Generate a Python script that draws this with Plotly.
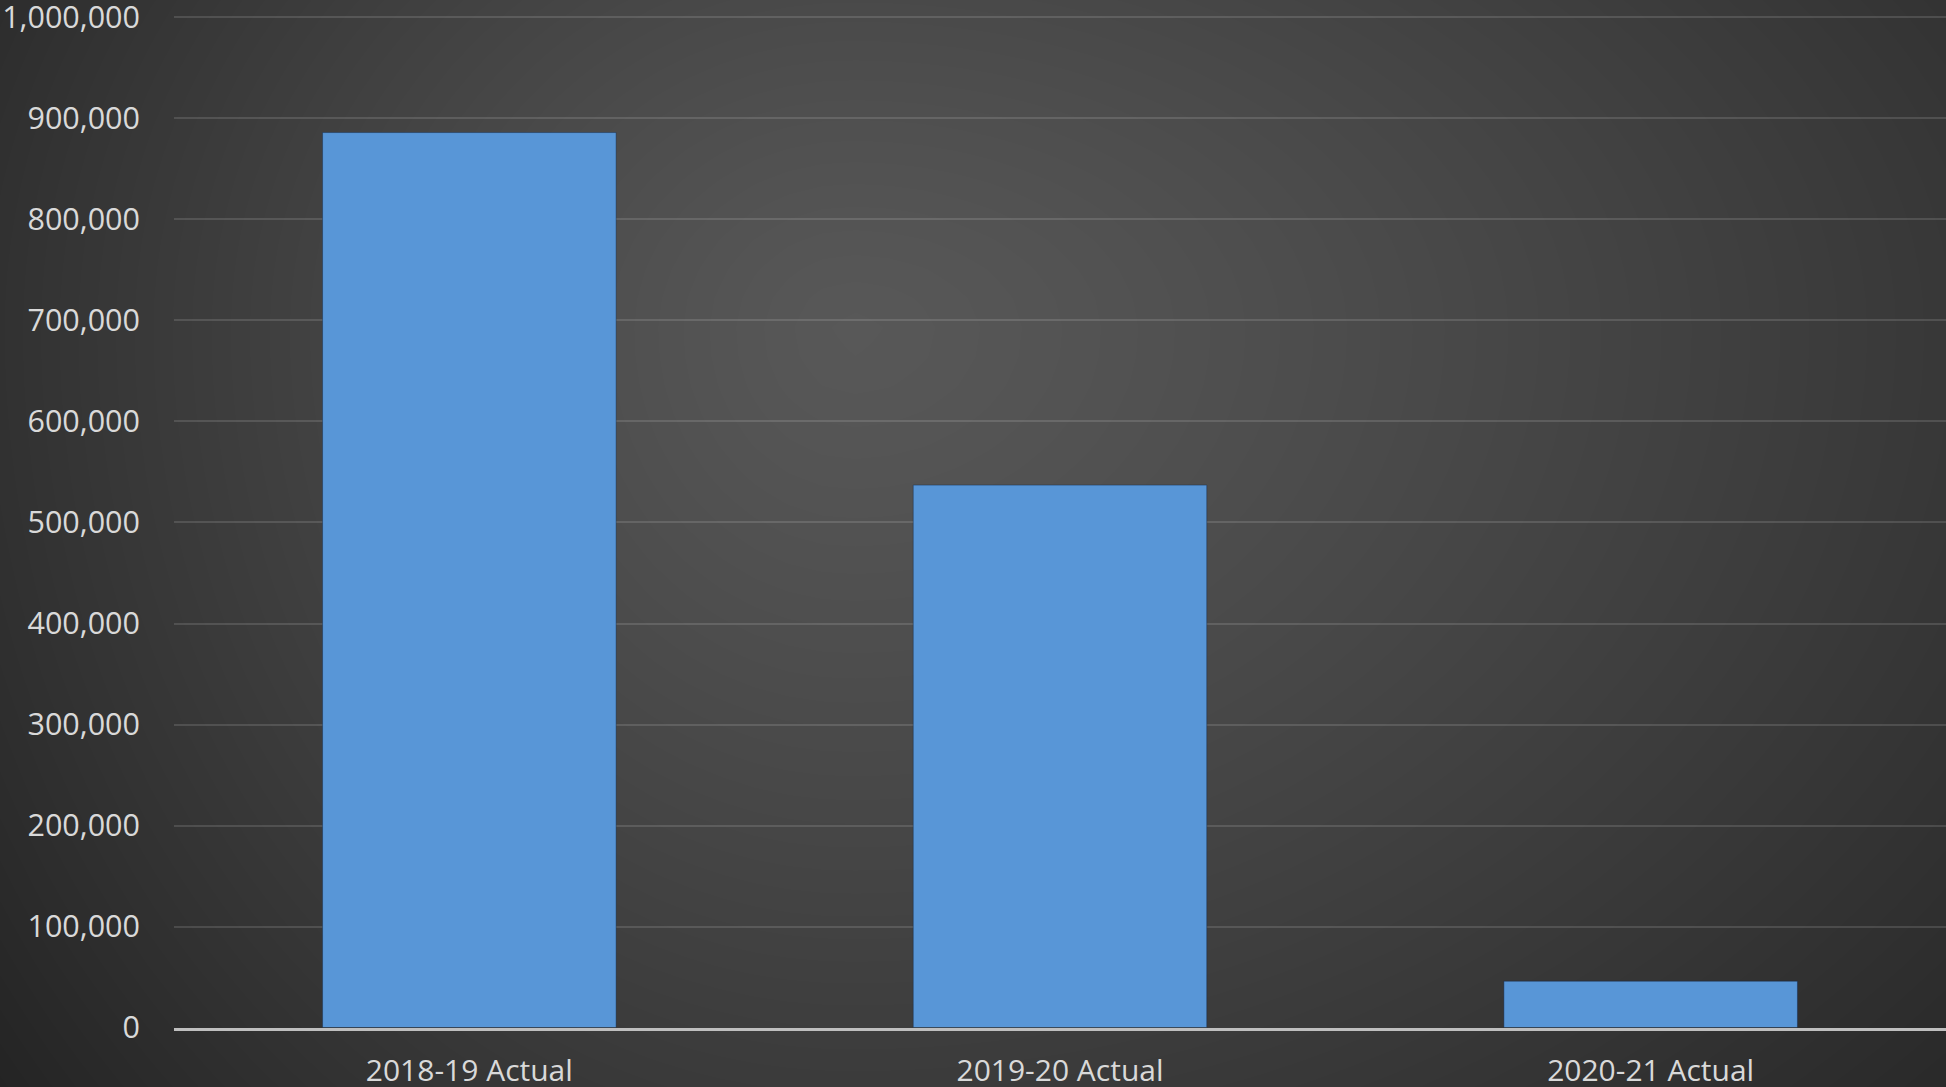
import numpy as np
import plotly.graph_objects as go

# ---- data ----
categories = ["2018-19 Actual", "2019-20 Actual", "2020-21 Actual"]
values = [886000, 537000, 46000]
y_tick_vals = [0, 100000, 200000, 300000, 400000, 500000, 600000, 700000, 800000, 900000, 1000000]
y_tick_text = ["0", "100,000", "200,000", "300,000", "400,000", "500,000",
               "600,000", "700,000", "800,000", "900,000", "1,000,000"]

W, H = 1946, 1087

# ---- radial dark background (styling only) ----
gx = np.linspace(-20, W + 20, 60)
gy = np.linspace(-20, H + 20, 40)
X, Y = np.meshgrid(gx, gy)
cx, cy = 850, 330
dx = np.where(X < cx, (X - cx) / 800.0, (X - cx) / 1200.0)
dy = np.where(Y < cy, (Y - cy) / 700.0, (Y - cy) / 900.0)
d = np.sqrt(dx ** 2 + dy ** 2)
Z = 88 - 36 * d ** 1.2

fig = go.Figure()
fig.add_trace(go.Heatmap(
    x=gx, y=gy, z=Z, zmin=0, zmax=255, zsmooth="best",
    colorscale=[[0, "rgb(0,0,0)"], [1, "rgb(255,255,255)"]],
    showscale=False, hoverinfo="skip", xaxis="x", yaxis="y",
))

fig.add_trace(go.Bar(
    x=categories, y=values, xaxis="x2", yaxis="y2",
    marker=dict(color="#5896d7", line=dict(color="rgba(20,40,70,0.45)", width=1)),
    width=0.497,
))

ymax = 1002000
px_per = (1027.6 - 17.4) / 1000000
left = 174 / W
bottom = (H - 1027.6) / H
top = (H - (1027.6 - ymax * px_per)) / H

fig.update_layout(
    width=W, height=H, autosize=False,
    margin=dict(l=0, r=0, t=0, b=0, pad=0, autoexpand=False),
    paper_bgcolor="#333333",
    plot_bgcolor="rgba(0,0,0,0)",
    showlegend=False,
    font=dict(family="Open Sans", color="#d9d9d9", size=30),
    xaxis=dict(domain=[0, 1], range=[0, W], visible=False, fixedrange=True, automargin=False),
    yaxis=dict(domain=[0, 1], range=[H, 0], visible=False, fixedrange=True, automargin=False),
    xaxis2=dict(
        domain=[left, 1], anchor="y2", range=[-0.5, 2.5],
        showgrid=False, zeroline=False, automargin=False,
        showline=True, linecolor="#bfbfbf", linewidth=3, layer="above traces",
        ticks="", ticklabelstandoff=14, ticklabeloverflow="allow",
        tickfont=dict(family="Open Sans", size=30, color="#d9d9d9"),
    ),
    yaxis2=dict(
        domain=[bottom, top], anchor="x2", range=[0, ymax], automargin=False,
        tickvals=y_tick_vals, ticktext=y_tick_text,
        showgrid=True, gridcolor="rgba(255,255,255,0.13)", gridwidth=2,
        zeroline=False, showline=False, ticks="", ticklabelstandoff=33,
        ticklabeloverflow="allow",
        tickfont=dict(family="Open Sans", size=30.5, color="#d9d9d9"),
    ),
)

fig.write_html(
    "out.html",
    config={"displayModeBar": False},
    post_script="document.body.style.margin='0';document.body.style.overflow='hidden';",
)
